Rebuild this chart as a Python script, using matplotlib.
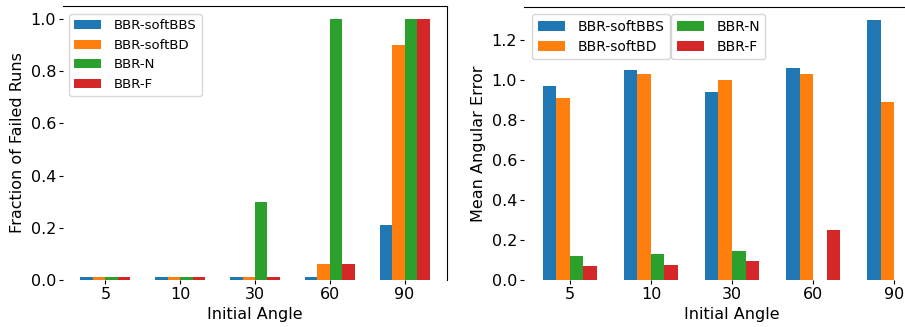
import numpy as np
import matplotlib
matplotlib.use("Agg")
import matplotlib.pyplot as plt

# data
angles = ["5", "10", "30", "60", "90"]
series = ["BBR-softBBS", "BBR-softBD", "BBR-N", "BBR-F"]

# fraction of failed runs (zeros drawn as a thin stub in the original)
fail_softbbs = [0.01, 0.01, 0.01, 0.01, 0.21]
fail_softbd = [0.01, 0.01, 0.01, 0.06, 0.90]
fail_n = [0.01, 0.01, 0.30, 1.00, 1.00]
fail_f = [0.01, 0.01, 0.01, 0.06, 1.00]

# mean angular error (nan = no successful run)
err_softbbs = [0.97, 1.05, 0.94, 1.06, 1.30]
err_softbd = [0.91, 1.03, 1.00, 1.03, 0.89]
err_n = [0.12, 0.13, 0.145, np.nan, np.nan]
err_f = [0.07, 0.075, 0.095, 0.25, np.nan]

colors = ["#1f77b4", "#ff7f0e", "#2ca02c", "#d62728"]
width = 1 / 6

fig = plt.figure(figsize=(9.05, 3.27), dpi=100)
ax1 = fig.add_axes([63 / 905, 47 / 327, 384 / 905, 274 / 327])
ax2 = fig.add_axes([524 / 905, 47 / 327, 416 / 905, 273 / 327])

x = np.arange(len(angles))
offsets = (np.arange(4) - 1.5) * width


def draw(ax, data, ylabel):
    bars = []
    for i, vals in enumerate(data):
        bars.append(ax.bar(x + offsets[i], vals, width, color=colors[i], label=series[i]))
    ax.set_xticks(x)
    ax.set_xticklabels(angles)
    ax.set_xlim(-0.567, 4.567)
    ax.set_xlabel("Initial Angle", fontsize=11.5, labelpad=4)
    ax.set_ylabel(ylabel, fontsize=11.5)
    ax.tick_params(labelsize=11.5, length=3, pad=2)
    ax.spines["left"].set_visible(False)
    ax.spines["bottom"].set_visible(False)
    return bars


draw(ax1, [fail_softbbs, fail_softbd, fail_n, fail_f], "Fraction of Failed Runs")
b2 = draw(ax2, [err_softbbs, err_softbd, err_n, err_f], "Mean Angular Error")
ax2.set_ylim(0, 1.365)

ax1.legend(loc="upper left", bbox_to_anchor=(6 / 384, 1 - 8 / 274),
           borderaxespad=0, fontsize=9.5, handlelength=2.0,
           labelspacing=0.5, handletextpad=1.0)

# two legend boxes side by side on the right panel
leg_a = ax2.legend(b2[:2], series[:2], loc="upper left",
                   bbox_to_anchor=(8 / 416, 1 - 7 / 273), borderaxespad=0,
                   fontsize=10, handlelength=2.0, handletextpad=0.85,
                   labelspacing=0.45)
ax2.add_artist(leg_a)
ax2.legend(b2[2:], series[2:], loc="upper left",
           bbox_to_anchor=(147 / 416, 1 - 7 / 273), borderaxespad=0,
           fontsize=10, handlelength=2.0, handletextpad=0.85,
           labelspacing=0.45)

fig.savefig("out.png", dpi=100)
